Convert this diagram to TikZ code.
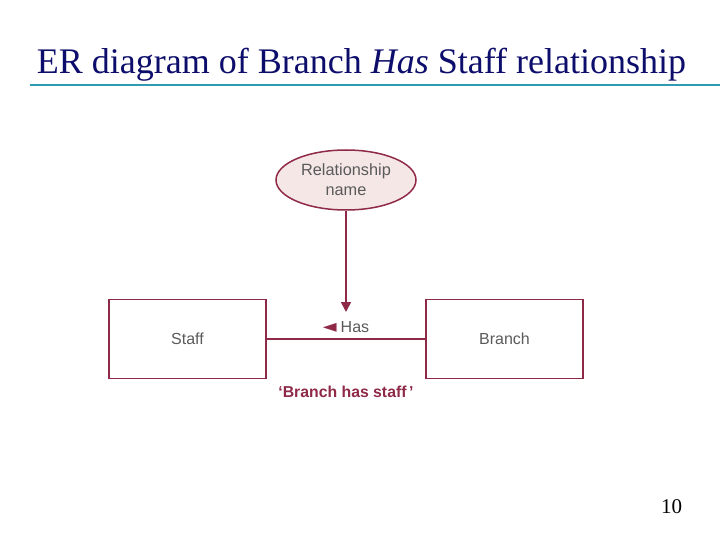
\documentclass[tikz,border=0pt]{standalone}
\usepackage{fontspec}
\setmainfont{Liberation Serif}
\setsansfont{Liberation Sans}
\newfontfamily\djv{DejaVu Sans}
\usetikzlibrary{shapes.geometric,arrows.meta}
\definecolor{maroon}{HTML}{8E2A48}
\definecolor{pinkfill}{HTML}{F6E7E7}
\definecolor{navy}{HTML}{0D0D6B}
\definecolor{teal}{HTML}{2E9BB0}
\definecolor{gtext}{HTML}{5A5A5A}
\tikzset{
  entity/.style={draw=maroon, line width=1.5pt, minimum width=157pt, minimum height=79pt, inner sep=0pt,
    font=\sffamily\fontsize{16}{18}\selectfont, text=gtext},
  relname/.style={ellipse, draw=maroon, line width=1.5pt, fill=pinkfill, minimum width=140pt, minimum height=60pt,
    inner sep=0pt, align=center, font=\sffamily\fontsize{16.3}{20}\selectfont, text=gtext},
  conn/.style={draw=maroon, line width=1.6pt},
  lbl/.style={font=\sffamily\fontsize{16}{18}\selectfont, text=gtext, inner sep=0pt}
}
\begin{document}
\begin{tikzpicture}[x=1pt,y=-1pt]
\useasboundingbox (0,0) rectangle (720,540);
\node[anchor=base, text=navy, font=\fontsize{36}{40}\selectfont, inner sep=0pt] (title) at (361.5,74) {ER diagram of Branch \textit{Has} Staff relationship};
\draw[teal, line width=2pt] (30,85) coordinate (ls) -- (720,85) coordinate (le);
\node[relname] (rel) at (346,180) {Relationship\\name};
\node[entity] (staff) at (187.5,339) {Staff};
\node[entity] (branch) at (504.5,339) {Branch};
\coordinate (tip) at (346,312);
\draw[conn, -{Triangle[length=10pt,width=10pt]}] (rel.south) -- (tip);
\draw[conn] (staff.east) -- (branch.west);
\node[lbl, anchor=base] (has) at (346,332) {\textcolor{maroon}{\djv\fontsize{18}{18}\selectfont ◄}\hspace{4pt}Has};
\node[anchor=base, text=maroon, font=\sffamily\bfseries\fontsize{15.8}{18}\selectfont, inner sep=0pt] (caption) at (346,397) {‘Branch has staff\,’};
\node[anchor=base, font=\fontsize{21}{24}\selectfont, inner sep=0pt] (pg) at (671.5,513) {10};
\end{tikzpicture}
\end{document}
